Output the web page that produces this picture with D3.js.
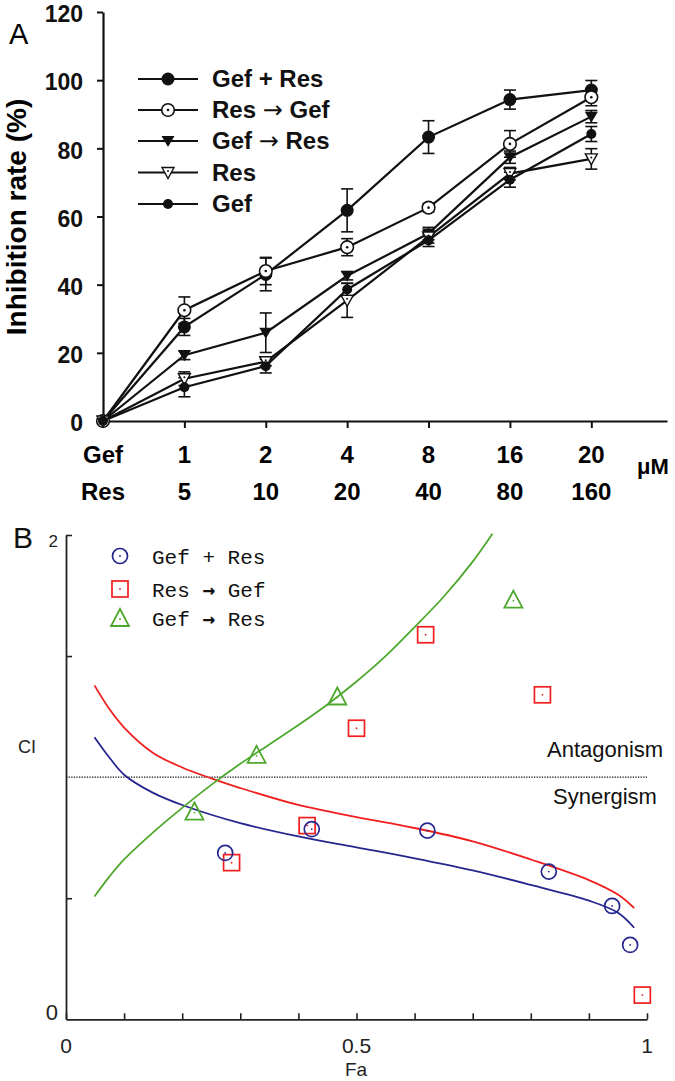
<!DOCTYPE html>
<html><head><meta charset="utf-8">
<script src="https://cdn.jsdelivr.net/npm/d3@7"></script>
<style>body{margin:0;background:#fff}</style>
</head><body><svg id="c" width="675" height="1081"></svg>
<script>
// ---------- Panel A data ----------
const doseIndex = [0,1,2,3,4,5,6];
const gefDose = ["1","2","4","8","16","20"];
const resDose = ["5","10","20","40","80","160"];
const yTicksA = [0,20,40,60,80,100,120];
const namesA = [["Gef + Res"],["Res ","\u2192"," Gef"],["Gef ","\u2192"," Res"],["Res"],["Gef"]];
const gefPlusRes = [0, 27.6, 43.0, 61.8, 83.3, 94.3, 97.1];
const gefPlusResErr = [0, 2.5, 4.8, 6.3, 4.8, 2.8, 2.8];
const resThenGef = [0, 32.5, 44.0, 51.0, 62.6, 81.3, 95.0];
const resThenGefErr = [0, 3.9, 4.0, 2.5, 1.2, 3.9, 2.5];
const gefThenRes = [0, 19.3, 25.9, 42.6, 55.0, 77.4, 89.3];
const gefThenResErr = [0, 1.3, 5.8, 1.2, 1.8, 1.8, 1.8];
const resAlone = [0, 12.4, 17.4, 35.4, 54.0, 72.6, 76.9];
const resAloneErr = [0, 2.0, 1.2, 5.0, 1.8, 1.8, 3.0];
const gefAlone = [0, 9.9, 16.1, 38.6, 53.0, 70.8, 84.2];
const gefAloneErr = [0, 2.8, 2.0, 1.8, 1.8, 2.2, 2.2];

// ---------- Panel B data ----------
const faTicks = [0,0.1,0.2,0.3,0.4,0.5,0.6,0.7,0.8,0.9,1];
const ciTicks = [0.5,1.5,2];
const namesB = [["Gef + Res"],["Res ","\u2192"," Gef"],["Gef ","\u2192"," Res"]];
const bluePts = [[0.274,0.687],[0.423,0.785],[0.622,0.779],[0.831,0.610],[0.940,0.468],[0.971,0.307]];
const redPts = [[0.285,0.647],[0.415,0.800],[0.500,1.202],[0.619,1.588],[0.820,1.340],[0.992,0.100]];
const greenPts = [[0.221,0.858],[0.328,1.092],[0.467,1.333],[0.770,1.733]];
const blueCurve = [[0.049,1.165],[0.075,1.08],[0.10,1.01],[0.15,0.935],[0.20,0.885],[0.30,0.81],[0.40,0.755],[0.50,0.71],[0.60,0.665],[0.70,0.615],[0.80,0.555],[0.90,0.49],[0.95,0.44],[0.978,0.378]];
const redCurve = [[0.049,1.379],[0.075,1.28],[0.10,1.205],[0.15,1.10],[0.20,1.04],[0.25,0.995],[0.30,0.955],[0.40,0.885],[0.50,0.835],[0.60,0.79],[0.70,0.735],[0.80,0.66],[0.90,0.575],[0.95,0.515],[0.978,0.459]];
const greenCurve = [[0.049,0.507],[0.075,0.59],[0.10,0.66],[0.15,0.772],[0.20,0.873],[0.25,0.968],[0.30,1.055],[0.35,1.135],[0.40,1.215],[0.45,1.30],[0.50,1.395],[0.55,1.50],[0.60,1.62],[0.65,1.745],[0.70,1.89],[0.734,2.005]];

const svg = d3.select("#c");
const ARIAL = "'Liberation Sans', Arial, sans-serif";

// =============== PANEL A ===============
const xA = d3.scaleLinear().domain([0, 6.93]).range([103, 667]);
const yA = d3.scaleLinear().domain([0, 120]).range([421, 12]);
const gA = svg.append("g");

const yAxisA = gA.append("g").attr("transform", `translate(${xA(0)},0)`)
  .call(d3.axisLeft(yA).tickValues(yTicksA).tickSize(6).tickSizeOuter(0).tickPadding(14).tickFormat(d3.format("d")));
const xAxisA = gA.append("g").attr("transform", `translate(0,${yA(0)})`)
  .call(d3.axisBottom(xA).tickValues(doseIndex.slice(1)).tickSize(7).tickSizeOuter(0).tickFormat(""));
[yAxisA, xAxisA].forEach(ax => {
  ax.select(".domain").attr("stroke", "#111").attr("stroke-width", 2.2);
  ax.selectAll(".tick line").attr("stroke", "#111").attr("stroke-width", 2);
});
yAxisA.selectAll(".tick text").attr("font-family", ARIAL).attr("font-weight", "bold")
  .attr("font-size", 23).attr("fill", "#111").attr("dy", "0.42em");

// dose rows
const rowGef = 463, rowRes = 500;
gA.append("text").attr("x", xA(0)).attr("y", rowGef).attr("text-anchor", "middle")
  .attr("font-family", ARIAL).attr("font-weight", "bold").attr("font-size", 24).text("Gef");
gA.append("text").attr("x", xA(0)).attr("y", rowRes).attr("text-anchor", "middle")
  .attr("font-family", ARIAL).attr("font-weight", "bold").attr("font-size", 24).text("Res");
gA.selectAll(".gd").data(gefDose).join("text").attr("x", (d,i) => xA(i+1)).attr("y", rowGef)
  .attr("text-anchor", "middle").attr("font-family", ARIAL).attr("font-weight", "bold").attr("font-size", 24).text(d => d);
gA.selectAll(".rd").data(resDose).join("text").attr("x", (d,i) => xA(i+1)).attr("y", rowRes)
  .attr("text-anchor", "middle").attr("font-family", ARIAL).attr("font-weight", "bold").attr("font-size", 24).text(d => d);
gA.append("text").attr("x", 637).attr("y", 474).attr("font-family", ARIAL).attr("font-weight", "bold")
  .attr("font-size", 22).text("\u03bcM");

// y label
gA.append("text").attr("transform", "translate(26,217) rotate(-90)").attr("text-anchor", "middle")
  .attr("font-family", ARIAL).attr("font-weight", "bold").attr("font-size", 28).text("Inhibition rate (%)");
gA.append("text").attr("x", 9).attr("y", 44).attr("font-family", ARIAL).attr("font-size", 29).text("A");

// series
const seriesA = [
  {name: namesA[0], v: gefPlusRes, e: gefPlusResErr, m: "bigdot"},
  {name: namesA[1], v: resThenGef, e: resThenGefErr, m: "opencirc"},
  {name: namesA[2], v: gefThenRes, e: gefThenResErr, m: "filltri"},
  {name: namesA[3], v: resAlone, e: resAloneErr, m: "opentri"},
  {name: namesA[4], v: gefAlone, e: gefAloneErr, m: "smalldot"}
];
const lineA = d3.line().x((d,i) => xA(i)).y(d => yA(d));
seriesA.forEach(s => {
  gA.append("path").attr("d", lineA(s.v)).attr("fill", "none").attr("stroke", "#111").attr("stroke-width", 2.2);
});
seriesA.forEach(s => {
  s.v.forEach((v,i) => {
    if (!s.e[i]) return;
    const x = xA(i), y1 = yA(v + s.e[i]), y0 = yA(v - s.e[i]);
    const g = gA.append("g").attr("stroke", "#111").attr("stroke-width", 1.6);
    g.append("line").attr("x1", x).attr("x2", x).attr("y1", y0).attr("y2", y1);
    g.append("line").attr("x1", x-6).attr("x2", x+6).attr("y1", y0).attr("y2", y0);
    g.append("line").attr("x1", x-6).attr("x2", x+6).attr("y1", y1).attr("y2", y1);
  });
});
function markerA(g, type, x, y) {
  if (type === "bigdot") {
    g.append("circle").attr("cx", x).attr("cy", y).attr("r", 6.5).attr("fill", "#111");
  } else if (type === "smalldot") {
    g.append("circle").attr("cx", x).attr("cy", y).attr("r", 5).attr("fill", "#111");
  } else if (type === "opencirc") {
    g.append("circle").attr("cx", x).attr("cy", y).attr("r", 6.3).attr("fill", "#fff").attr("stroke", "#111").attr("stroke-width", 1.6);
    g.append("circle").attr("cx", x).attr("cy", y).attr("r", 1.3).attr("fill", "#111");
  } else if (type === "filltri") {
    g.append("path").attr("d", `M${x-6.5},${y-5} L${x+6.5},${y-5} L${x},${y+6} Z`).attr("fill", "#111");
  } else if (type === "opentri") {
    g.append("path").attr("d", `M${x-6},${y-5} L${x+6},${y-5} L${x},${y+6} Z`).attr("fill", "#fff").attr("stroke", "#111").attr("stroke-width", 1.4);
    g.append("circle").attr("cx", x).attr("cy", y-1.5).attr("r", 1).attr("fill", "#111");
  }
}
seriesA.forEach(s => { s.v.forEach((v,i) => markerA(gA, s.m, xA(i), yA(v))); });

function partsText(t, parts, arrowFont, arrowWeight) {
  parts.forEach(p => {
    const ts = t.append("tspan").text(p);
    if (p === "\u2192") ts.attr("font-family", arrowFont).attr("font-weight", arrowWeight);
  });
}

// legend A
const legY = [79, 110, 141, 172.5, 204];
seriesA.forEach((s,k) => {
  const y = legY[k];
  gA.append("line").attr("x1", 138).attr("x2", 198).attr("y1", y).attr("y2", y).attr("stroke", "#111").attr("stroke-width", 2.2);
  markerA(gA, s.m, 168, y);
  const t = gA.append("text").attr("x", 212).attr("y", y + 8).attr("font-family", ARIAL).attr("font-weight", "bold")
    .attr("font-size", 24).attr("fill", "#111").attr("xml:space", "preserve");
  partsText(t, s.name, "'DejaVu Sans', sans-serif", "normal");
});

// =============== PANEL B ===============
const xB = d3.scaleLinear().domain([0, 1]).range([66, 647]);
const yB = d3.scaleLinear().domain([0, 2]).range([1019.3, 535]);
const gB = svg.append("g");
const BLUE = "#26268f", RED = "#f01e1e", GREEN = "#4fa82e";

const xAxisB = gB.append("g").attr("transform", `translate(0,${yB(0)})`)
  .call(d3.axisBottom(xB).tickValues(faTicks).tickSize(-6).tickSizeOuter(0).tickFormat(""));
const yAxisB = gB.append("g").attr("transform", `translate(${xB(0)},0)`)
  .call(d3.axisLeft(yB).tickValues(ciTicks).tickSize(-6).tickSizeOuter(0).tickFormat(""));
[xAxisB, yAxisB].forEach(ax => {
  ax.select(".domain").attr("stroke", "#222").attr("stroke-width", 1.8);
  ax.selectAll(".tick line").attr("stroke", "#222").attr("stroke-width", 1.6);
});
// Fa labels
[[0,"0"],[0.5,"0.5"],[1,"1"]].forEach(([v,t]) => {
  gB.append("text").attr("x", xB(v)).attr("y", 1053).attr("text-anchor", "middle")
    .attr("font-family", ARIAL).attr("font-size", 21).attr("fill", "#222").text(t);
});
gB.append("text").attr("x", 356).attr("y", 1076).attr("text-anchor", "middle").attr("font-family", ARIAL)
  .attr("font-size", 19).attr("fill", "#222").text("Fa");
gB.append("text").attr("x", 58).attr("y", 1020).attr("text-anchor", "end").attr("font-family", ARIAL)
  .attr("font-size", 22).attr("fill", "#222").text("0");
gB.append("text").attr("x", 58).attr("y", 547).attr("text-anchor", "end").attr("font-family", ARIAL)
  .attr("font-size", 17).attr("fill", "#222").text("2");
gB.append("text").attr("x", 18).attr("y", 753).attr("font-family", ARIAL)
  .attr("font-size", 18).attr("fill", "#222").text("CI");
gB.append("text").attr("x", 13).attr("y", 548).attr("font-family", ARIAL).attr("font-size", 30).attr("fill", "#111").text("B");

// CI = 1 reference line
gB.append("line").attr("x1", xB(0)).attr("x2", xB(1)).attr("y1", yB(1)).attr("y2", yB(1))
  .attr("stroke", "#111").attr("stroke-width", 1.3).attr("stroke-dasharray", "1.3,1.3");
gB.append("text").attr("x", 547).attr("y", 757).attr("font-family", ARIAL).attr("font-size", 22).attr("fill", "#111").text("Antagonism");
gB.append("text").attr("x", 553).attr("y", 804).attr("font-family", ARIAL).attr("font-size", 22).attr("fill", "#111").text("Synergism");

// curves
const lineB = d3.line().x(d => xB(d[0])).y(d => yB(d[1])).curve(d3.curveCatmullRom);
[[blueCurve, BLUE], [redCurve, RED], [greenCurve, GREEN]].forEach(([c, col]) => {
  gB.append("path").attr("d", lineB(c)).attr("fill", "none").attr("stroke", col).attr("stroke-width", 1.8);
});

function markerB(g, type, x, y) {
  if (type === "circ") {
    g.append("circle").attr("cx", x).attr("cy", y).attr("r", 7.5).attr("fill", "none").attr("stroke", BLUE).attr("stroke-width", 1.7);
    g.append("circle").attr("cx", x).attr("cy", y).attr("r", 0.9).attr("fill", BLUE);
  } else if (type === "sq") {
    g.append("rect").attr("x", x-8).attr("y", y-8).attr("width", 16).attr("height", 16).attr("fill", "none").attr("stroke", RED).attr("stroke-width", 1.7);
    g.append("circle").attr("cx", x).attr("cy", y).attr("r", 0.9).attr("fill", RED);
  } else {
    g.append("path").attr("d", `M${x},${y-9} L${x+9},${y+8} L${x-9},${y+8} Z`).attr("fill", "none").attr("stroke", GREEN).attr("stroke-width", 1.8);
    g.append("circle").attr("cx", x).attr("cy", y+1).attr("r", 0.9).attr("fill", GREEN);
  }
}
greenPts.forEach(p => markerB(gB, "tri", xB(p[0]), yB(p[1])));
redPts.forEach(p => markerB(gB, "sq", xB(p[0]), yB(p[1])));
bluePts.forEach(p => markerB(gB, "circ", xB(p[0]), yB(p[1])));

// legend B
const legBY = [556, 589, 618];
["circ","sq","tri"].forEach((t,k) => {
  markerB(gB, t, 120, legBY[k]);
  const tx = gB.append("text").attr("x", 152).attr("y", legBY[k] + 8).attr("font-family", "'Liberation Mono', 'DejaVu Sans Mono', monospace")
    .attr("font-size", 21).attr("fill", "#111").attr("xml:space", "preserve");
  partsText(tx, namesB[k], "'DejaVu Sans Mono', monospace", "bold");
});
</script>
</body></html>
